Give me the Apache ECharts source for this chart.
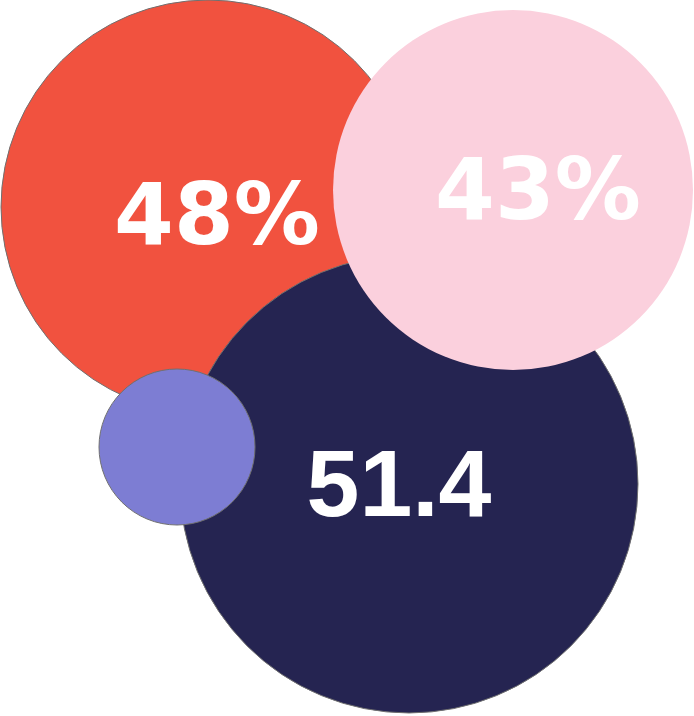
<!DOCTYPE html>
<html>
<head>
<meta charset="utf-8">
<script src="https://cdn.jsdelivr.net/npm/echarts@6/dist/echarts.min.js"></script>
<style>
  html, body { margin: 0; padding: 0; background: #ffffff; }
  #visualisation { width: 694px; height: 716px; }
</style>
</head>
<body>
<div id="visualisation"></div>
<script>
// Bubbles, in drawing order (back to front).
const labels = ['48%', '51.4', '43%', ''];
const centerX = [208, 409, 513, 177];
const centerY = [207, 484, 190, 447];
const radius = [207, 229, 180, 78];
const colors = ['#F1523F', '#252451', '#FBD0DD', '#7D7DD3'];

function drawVisualisation() {
    let visualisation = echarts.init(document.getElementById('visualisation'));
    window.onresize = () => visualisation.resize();

    // Label nudges so the text sits where it does in the original.
    const labelOffsets = [[9, 15], [-10, 6], [25, 7], [0, 0]];
    const labelFonts = ['DejaVu Sans', 'Liberation Sans', 'DejaVu Sans', 'DejaVu Sans'];
    const labelSizes = [86, 95, 86, 10];

    let data = labels.map((text, i) => ({
        value: [centerX[i], centerY[i], radius[i]],
        name: text,
        itemStyle: {
            color: colors[i],
            opacity: 1,
            borderColor: i === 2 ? 'rgba(0,0,0,0)' : '#707070',
            borderWidth: i === 2 ? 0 : 1
        },
        label: {
            show: text !== '',
            offset: labelOffsets[i],
            fontFamily: labelFonts[i],
            fontSize: labelSizes[i]
        }
    }));

    /** @type EChartsOption */
    let option = {
        animation: false,
        grid: { left: 0, right: 0, top: 0, bottom: 0 },
        xAxis: { type: 'value', min: 0, max: 694, show: false },
        yAxis: { type: 'value', min: 0, max: 716, inverse: true, show: false },
        series: [{
            type: 'scatter',
            symbol: 'circle',
            symbolSize: (val) => val[2] * 2,
            data: data,
            itemStyle: { opacity: 1 },
            label: {
                show: true,
                position: 'inside',
                formatter: (p) => p.name,
                color: '#ffffff',
                fontWeight: 'bold'
            },
            emphasis: { disabled: true }
        }]
    };

    visualisation.setOption(option);
}

window.addEventListener('load', drawVisualisation);
</script>
</body>
</html>
